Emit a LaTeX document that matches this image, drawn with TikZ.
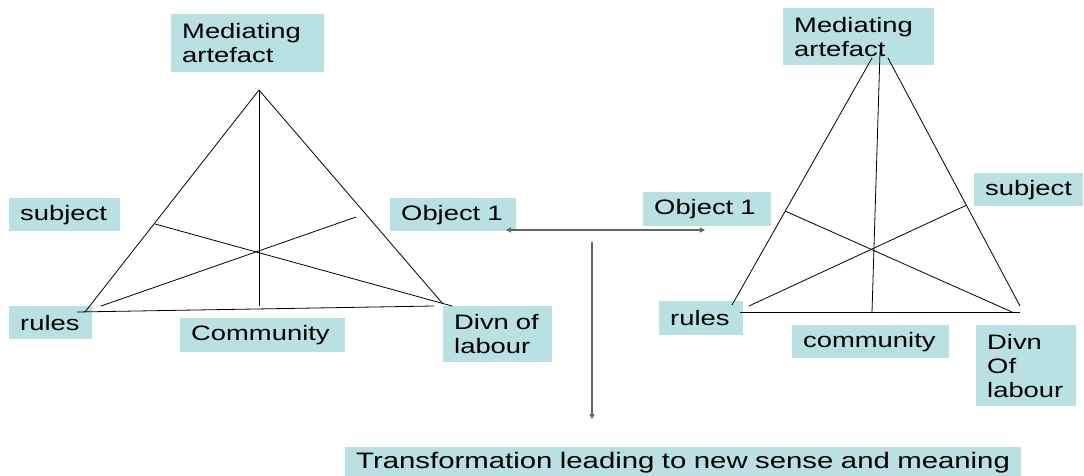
\documentclass[tikz,border=0pt]{standalone}
\usepackage{fontspec}
\setmainfont[FakeStretch=1.31]{Liberation Sans}
\usetikzlibrary{arrows.meta}

\definecolor{boxfill}{RGB}{185,224,226}
\definecolor{arrowgray}{RGB}{100,100,100}

\begin{document}
\begin{tikzpicture}[x=1pt,y=1pt,yscale=-1,xscale=1,
  lbl/.style={fill=boxfill, anchor=north west, inner xsep=11pt, inner ysep=0pt, align=left, font=\fontsize{20.9}{24}\selectfont},
  edge/.style={line width=0.8pt},
  link/.style={arrowgray, line width=1.2pt},
  tip/.style={-{Triangle[length=5pt,width=5pt]}}]
\useasboundingbox (0,0) rectangle (1084,476);

% Text Node -- left triangle labels
\node[lbl, text width=131pt, minimum height=58pt] (medL) at (171,14) {Mediating\\artefact};
\node[lbl, text width=89pt, minimum height=33pt] (subjL) at (9,198) {subject};
\node[lbl, text width=61pt, minimum height=33pt] (rulesL) at (9,306) {rules};
\node[lbl, text width=143pt, minimum height=34pt] (commL) at (180,318) {Community};
\node[lbl, text width=87pt, minimum height=56pt] (divnL) at (443,306) {Divn of\\labour};
\node[lbl, text width=104pt, minimum height=33pt] (objL) at (390,198) {Object 1};

% Text Node -- right triangle labels
\node[lbl, text width=129pt, minimum height=57pt] (medR) at (783,8) {Mediating\\artefact};
\node[lbl, text width=87pt, minimum height=33pt] (subjR) at (974,173) {subject};
\node[lbl, text width=62pt, minimum height=34pt] (rulesR) at (659,301) {rules};
\node[lbl, text width=135pt, minimum height=33pt] (commR) at (792,325) {community};
\node[lbl, text width=78pt, minimum height=81pt] (divnR) at (976,325) {Divn\\Of\\labour};
\node[lbl, text width=106pt, minimum height=34pt] (objR) at (643,192) {Object 1};

% Text Node -- outcome
\node[lbl, text width=654pt, minimum height=32pt, font=\fontsize{22.4}{26}\selectfont] (trans) at (345,447) {Transformation leading to new sense and meaning};

% Shape: left triangle
\coordinate (lApex) at (259,90);
\coordinate (lLeft) at (85,312);
\coordinate (lRight) at (443,304);
\coordinate (lBaseA) at (77,312);
\coordinate (lBaseB) at (434,306);
\coordinate (lFoot) at (259,306);
\coordinate (lSubj) at (155,224);
\coordinate (lDivn) at (452,306);
\coordinate (lRules) at (101,306);
\coordinate (lObj) at (356,217);
\draw[edge] (lApex) -- (lLeft);
\draw[edge] (lApex) -- (lRight);
\draw[edge] (lBaseA) -- (lBaseB);
\draw[edge] (lApex) -- (lFoot);
\draw[edge] (lSubj) -- (lDivn);
\draw[edge] (lRules) -- (lObj);

% Shape: right triangle
\coordinate (rApexL) at (872,58);
\coordinate (rApexR) at (888,58);
\coordinate (rApex) at (880,52);
\coordinate (rLeft) at (732,305);
\coordinate (rRight) at (1020,306);
\coordinate (rBaseA) at (740,312);
\coordinate (rBaseB) at (1020,312);
\coordinate (rFoot) at (872,312);
\coordinate (rObj) at (785,211);
\coordinate (rDivn) at (1012,312);
\coordinate (rRules) at (749,306);
\coordinate (rSubj) at (967,205);
\draw[edge] (rApexL) -- (rLeft);
\draw[edge] (rApexR) -- (rRight);
\draw[edge] (rApex) -- (rFoot);
\draw[edge] (rBaseA) -- (rBaseB);
\draw[edge] (rObj) -- (rDivn);
\draw[edge] (rRules) -- (rSubj);

% Arrows between the objects and down to the outcome
\coordinate (objArrL) at (506,230);
\coordinate (objArrR) at (705,230);
\coordinate (downTop) at (592,242);
\coordinate (downEnd) at (592,419);
\draw[link, {Triangle[length=5pt,width=5pt]}-{Triangle[length=5pt,width=5pt]}] (objArrL) -- (objArrR);
\draw[link, tip] (downTop) -- (downEnd);

\end{tikzpicture}
\end{document}
